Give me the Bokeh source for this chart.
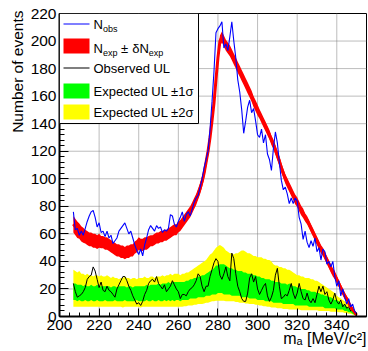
from bokeh.embed import file_html
from bokeh.models import BoxAnnotation, FixedTicker, Label, Range1d, Title
from bokeh.plotting import figure
from bokeh.resources import INLINE

# ---- data: one value per 1 MeV/c^2 bin, centres 207 ... 350 ----
mass = list(range(207, 351))

n_obs = [
    76, 63, 64, 59, 62, 59, 64, 69, 73, 76,
    77, 72, 65, 68, 61, 62, 58, 62, 57, 59,
    53, 55, 57, 62, 64, 66, 68, 64, 60, 62,
    57, 52, 48, 45, 49, 44, 52, 57, 63, 66,
    64, 62, 66, 64, 65, 61, 63, 62, 64, 74,
    73, 67, 65, 69, 72, 76, 69, 74, 76, 73,
    78, 83, 86, 88, 94, 100, 108, 114, 120, 136,
    156, 178, 206, 209, 211, 214, 195, 198, 193, 203,
    214, 200, 188, 172, 163, 150, 133, 142, 152, 157,
    148, 151, 142, 132, 130, 136, 126, 132, 118, 114,
    106, 122, 134, 126, 112, 99, 92, 94, 89, 82,
    86, 82, 86, 84, 72, 67, 56, 62, 54, 50,
    55, 51, 57, 47, 50, 41, 49, 47, 38, 40,
    36, 40, 29, 22, 26, 15, 20, 14, 9, 13,
    7, 9, 4, 2,
]

n_exp = [
    67, 65, 63, 62, 60, 59, 58, 57, 56, 56,
    55, 55, 54, 55, 54, 54, 53, 53, 52, 51,
    50, 49, 48, 48, 47, 47, 46, 47, 47, 48,
    48, 50, 51, 53, 52, 52, 53, 53, 54, 55,
    55, 56, 57, 57, 58, 58, 59, 59, 60, 61,
    62, 63, 63, 65, 66, 68, 70, 72, 74, 76,
    79, 82, 85, 89, 93, 98, 104, 112, 120, 130,
    142, 155, 172, 188, 200, 203, 200, 197, 195, 193,
    190, 187, 184, 181, 178, 175, 172, 169, 166, 163,
    160, 156, 153, 150, 147, 144, 141, 138, 135, 132,
    128, 125, 121, 117, 113, 108, 104, 100, 97, 94,
    91, 88, 85, 83, 80, 77, 75, 72, 70, 67,
    64, 61, 58, 55, 52, 49, 47, 44, 41, 38,
    35, 32, 30, 27, 24, 21, 18, 15, 13, 10,
    7, 5, 3, 1,
]

n_exp_err = [
    6, 6, 6, 5.5, 5.5, 5.5, 5, 5, 5, 5,
    5, 5, 5, 5, 4.5, 4.5, 4.5, 4.5, 4.5, 4.5,
    4.5, 4.5, 4.5, 4.5, 4.5, 4.5, 4.5, 4.5, 4.5, 4.5,
    4.5, 4.5, 4.5, 4.5, 4.5, 4.5, 4.5, 4.5, 4.5, 4,
    4, 4, 4, 4, 4, 4, 4, 4, 4, 4,
    4, 4, 4, 4, 4, 4, 4, 4, 4, 4,
    4, 4, 4, 4, 4, 4, 4, 4, 4, 4,
    4, 4, 4, 4, 4, 4, 4, 4, 4, 4,
    4, 4, 4, 4, 4, 4, 4, 4, 4, 4,
    4, 4, 4, 4, 3.5, 3.5, 3.5, 3.5, 3.5, 3.5,
    3.5, 3.5, 3.5, 3.5, 3.5, 3.5, 3.5, 3.5, 3.5, 3.5,
    3.5, 3.5, 3.5, 3.5, 3.5, 3.5, 3.5, 3, 3, 3,
    3, 3, 3, 3, 3, 3, 3, 3, 3, 3,
    3, 3, 3, 2.5, 2.5, 2.5, 2.5, 2.5, 2, 2,
    2, 1.5, 1, 1,
]

ul_obs = [
    24, 18, 14, 15, 16, 18, 21, 27, 29, 30,
    36, 33, 27, 21, 25, 19, 18, 22, 19, 18,
    16, 14, 20, 23, 26, 29, 29, 26, 22, 19,
    15, 12, 9, 10, 8, 11, 16, 19, 24, 26,
    27, 25, 29, 24, 22, 20, 23, 18, 20, 22,
    26, 23, 20, 18, 13, 16, 16, 15, 18, 20,
    21, 23, 26, 31, 29, 22, 18, 22, 22, 29,
    34, 39, 42, 40, 30, 27, 31, 36, 29, 26,
    46, 42, 31, 22, 18, 13, 11, 11, 17, 28,
    31, 25, 29, 20, 16, 19, 22, 24, 15, 11,
    14, 19, 30, 35, 22, 13, 14, 16, 15, 19,
    24, 17, 13, 17, 24, 18, 13, 12, 17, 12,
    10, 13, 10, 16, 22, 18, 22, 16, 18, 12,
    9, 12, 17, 11, 9, 12, 7, 9, 6, 7,
    4, 5, 3, 1,
]

ul_exp_minus2 = [
    7, 7, 7, 7, 7, 7, 7, 7, 7, 7,
    7, 7, 7, 7, 7, 7, 7, 7, 7, 7,
    7, 7, 7, 7, 7, 6.5, 7, 7, 7, 7,
    7, 7, 7, 7, 6.5, 7, 7, 7, 7, 7,
    7, 7, 7, 7, 7, 7, 7, 7, 7, 7,
    7, 7, 7, 7, 7, 7, 7.5, 7.5, 8, 8,
    8, 8.5, 8.5, 9, 9, 9, 9.5, 10, 10, 10.5,
    11, 11, 11.5, 11.5, 11.5, 11.5, 11.5, 11, 11, 11,
    11, 11, 10.5, 10.5, 10, 10, 10, 9.5, 9.5, 9,
    9, 9, 8.5, 8.5, 8, 8, 7.5, 7.5, 7, 7,
    6.5, 6.5, 6.5, 6, 6, 6, 5.5, 5.5, 5.5, 5,
    5, 5, 5, 5, 5, 4.5, 4.5, 4.5, 4.5, 4.5,
    4.5, 4.5, 4.5, 4.5, 4, 4, 4, 4, 4, 4,
    3.5, 3.5, 3.5, 3.5, 3, 3, 3, 2.5, 2.5, 2,
    2, 1.5, 1, 0.3,
]

ul_exp_minus1 = [
    12, 12, 11, 12, 11, 11, 12, 11, 11, 12,
    11, 11, 12, 11, 11, 11, 12, 11, 11, 11,
    11, 12, 11, 11, 11, 11, 12, 11, 11, 11,
    11, 11, 12, 11, 11, 11, 11, 12, 11, 11,
    12, 11, 11, 12, 11, 11, 12, 11, 12, 11,
    12, 11, 12, 12, 11, 12, 12, 12, 12, 13,
    13, 13, 13, 14, 14, 14, 14, 15, 15, 15,
    16, 16, 16, 17, 17, 17, 16, 16, 16, 16,
    15, 15, 15, 15, 15, 14, 14, 14, 14, 13,
    13, 13, 13, 12, 12, 12, 12, 11, 11, 11,
    11, 10, 10, 10, 10, 10, 9, 9, 9, 9,
    9, 9, 8, 8, 8, 8, 8, 8, 8, 7,
    7, 7, 7, 7, 7, 7, 7, 6, 6, 6,
    6, 6, 6, 5, 5, 5, 5, 4, 4, 3,
    3, 2, 1, 0.5,
]

ul_exp_plus1 = [
    24, 24, 23, 23, 23, 22, 23, 22, 22, 23,
    22, 22, 23, 22, 22, 22, 22, 22, 22, 21,
    22, 22, 21, 22, 22, 22, 22, 21, 22, 22,
    21, 22, 22, 22, 22, 22, 22, 23, 22, 23,
    23, 23, 23, 24, 23, 24, 24, 24, 25, 24,
    25, 25, 25, 25, 25, 25, 25, 26, 26, 27,
    27, 28, 28, 29, 29, 30, 30, 31, 32, 33,
    34, 35, 37, 37, 38, 38, 38, 37, 36, 35,
    35, 34, 34, 33, 33, 33, 32, 32, 31, 31,
    31, 30, 30, 29, 29, 28, 28, 27, 27, 27,
    26, 26, 25, 25, 25, 24, 24, 24, 23, 24,
    23, 22, 22, 21, 21, 20, 20, 20, 19, 19,
    18, 18, 18, 17, 17, 16, 16, 15, 15, 14,
    14, 13, 12, 12, 11, 10, 9, 8, 7, 6,
    5, 4, 2, 1,
]

ul_exp_plus2 = [
    34, 33, 32, 33, 31, 31, 30, 31, 30, 30,
    29, 30, 30, 29, 30, 29, 29, 30, 29, 28,
    29, 28, 28, 27, 28, 28, 29, 28, 28, 27,
    28, 28, 27, 28, 28, 28, 29, 28, 28, 29,
    29, 28, 29, 29, 29, 30, 29, 30, 30, 31,
    30, 31, 31, 31, 30, 31, 31, 32, 32, 33,
    34, 35, 36, 37, 38, 39, 40, 41, 43, 45,
    46, 48, 50, 51, 52, 51, 50, 48, 47, 46,
    46, 45, 46, 46, 47, 48, 48, 47, 46, 46,
    45, 44, 44, 43, 43, 43, 42, 42, 41, 41,
    40, 38, 37, 37, 36, 36, 35, 35, 34, 34,
    33, 32, 31, 30, 30, 29, 29, 28, 28, 28,
    27, 27, 26, 26, 25, 24, 23, 22, 21, 20,
    19, 18, 17, 15, 14, 13, 12, 11, 10, 9,
    7, 5, 3, 1,
]

for series in (n_obs, n_exp, n_exp_err, ul_obs, ul_exp_minus2,
               ul_exp_minus1, ul_exp_plus1, ul_exp_plus2):
    assert len(series) == len(mass), len(series)

x_major_ticks = [200, 220, 240, 260, 280, 300, 320, 340]
y_major_ticks = [0, 20, 40, 60, 80, 100, 120, 140, 160, 180, 200, 220]
X_LO, X_HI = 200, 355
Y_LO, Y_HI = 0, 220

FONT = "Liberation Sans"

p = figure(
    width=368, height=351,
    x_range=Range1d(X_LO, X_HI), y_range=Range1d(Y_LO, Y_HI),
    output_backend="svg", toolbar_location=None,
    min_border_left=59, min_border_right=2, min_border_top=13, min_border_bottom=35,
)
p.background_fill_color = "white"
p.border_fill_color = "white"
p.outline_line_color = "black"
p.outline_line_width = 1

# axes: ticks point into the frame
p.xaxis.ticker = FixedTicker(ticks=x_major_ticks, minor_ticks=list(range(200, 356, 5)))
p.yaxis.ticker = FixedTicker(ticks=y_major_ticks, minor_ticks=list(range(0, 221, 4)))
for ax in (p.xaxis, p.yaxis):
    ax.axis_line_color = "black"
    ax.axis_line_width = 2
    ax.major_tick_out = 0
    ax.minor_tick_out = 0
    ax.major_tick_line_color = "black"
    ax.minor_tick_line_color = "black"
    ax.major_label_text_font = FONT
    ax.major_label_text_font_size = "15.5px"
    ax.major_label_text_color = "black"
    ax.major_label_standoff = 3
p.xaxis.major_tick_in = 8
p.xaxis.minor_tick_in = 4
p.yaxis.major_tick_in = 9
p.yaxis.minor_tick_in = 5

# dotted grid at the major ticks, drawn first so it sits beneath the data
p.grid.visible = False
gx = x_major_ticks[1:]
gy = y_major_ticks[1:-1]
p.segment(x0=gx, y0=[Y_LO] * len(gx), x1=gx, y1=[Y_HI] * len(gx),
          line_color="#7a7a7a", line_dash="1 1", line_width=1)
p.segment(x0=[X_LO] * len(gy), y0=gy, x1=[X_HI] * len(gy), y1=gy,
          line_color="#7a7a7a", line_dash="1 1", line_width=1)

# axis titles, placed at the far end of each axis
p.add_layout(Title(text="Number of events", align="right", text_font=FONT,
                   text_font_size="15.5px", text_font_style="normal",
                   text_color="black", standoff=4, offset=-3), "left")
p.add_layout(Title(text="mₐ [MeV/c²]", align="right", text_font=FONT,
                   text_font_size="16px", text_font_style="normal",
                   text_color="black", standoff=-9), "below")

# expected upper-limit bands, observed UL, expectation band and observed counts
n_exp_lo = [v - e for v, e in zip(n_exp, n_exp_err)]
n_exp_hi = [v + e for v, e in zip(n_exp, n_exp_err)]

p.varea(x=mass, y1=ul_exp_minus2, y2=ul_exp_plus2, fill_color="#ffff00")
p.varea(x=mass, y1=ul_exp_minus1, y2=ul_exp_plus1, fill_color="#00ff00")
p.line(x=mass, y=ul_obs, line_color="black", line_width=1)
p.varea(x=mass, y1=n_exp_lo, y2=n_exp_hi, fill_color="#ff0000")
p.line(x=mass, y=n_exp, line_color="#ff0000", line_width=3)
p.line(x=mass, y=n_obs, line_color="#0000ff", line_width=1.1)


def label(x, y, text, size, align="left"):
    p.add_layout(Label(
        x=x, y=y, x_units="screen", y_units="screen", text=text,
        text_font=FONT, text_font_size=f"{size}px", text_color="black",
        text_align=align, text_baseline="middle",
    ))


def box(left, right, bottom, top, fill, line=None):
    p.add_layout(BoxAnnotation(
        left=left, right=right, bottom=bottom, top=top,
        left_units="screen", right_units="screen",
        bottom_units="screen", top_units="screen",
        fill_color=fill, fill_alpha=1.0,
        line_color=line if line else fill, line_alpha=1.0 if line else 0.0,
        line_width=1,
    ))


# legend (screen units measured from the frame's lower-left corner)
box(0, 139, 193, 303, "white", "black")
box(4, 30, 292, 293, "#0000ff")
box(4, 30, 263, 278, "#ff0000")
box(4, 30, 248, 249, "black")
box(4, 30, 218, 233, "#00ff00")
box(4, 30, 197, 212, "#ffff00")

label(34, 292, "N", 13)
label(43.4, 287.5, "obs", 9)
label(34, 268.5, "N", 13)
label(43.4, 264, "exp", 9)
label(61.5, 268.5, "±", 13)
label(72.7, 268.5, "δN", 13)
label(89.3, 264, "exp", 9)
label(34, 247.7, "Observed UL", 13)
label(34, 225.5, "Expected UL ±1σ", 13)
label(34, 204, "Expected UL ±2σ", 13)

open("out.html", "w").write(file_html(p, INLINE))
